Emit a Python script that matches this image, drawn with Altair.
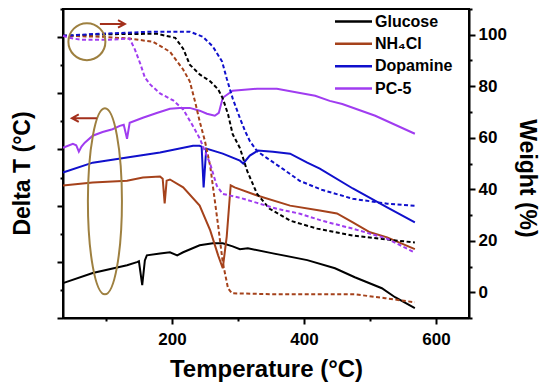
import altair as alt
import pandas as pd

SERIES = ["Glucose", "NH₄Cl", "Dopamine", "PC-5"]
COLORS = ["#000000", "#A5421B", "#1010CC", "#A03CF0"]

# ---- DTA curves (left axis, Delta T, arbitrary units) ----
glu_dta_t = [35, 80, 132, 147, 150, 155, 159, 162, 182, 197, 208, 217, 242, 262, 277, 292, 303, 315, 353, 405, 447, 477, 518, 538, 568]
glu_dta_v = [1.24, 1.60, 1.88, 1.99, 2.02, 1.17, 2.05, 2.23, 2.30, 2.34, 2.23, 2.34, 2.59, 2.66, 2.66, 2.55, 2.45, 2.48, 2.30, 2.06, 1.77, 1.45, 1.06, 0.74, 0.35]

nh4_dta_t = [35, 80, 132, 156, 182, 186, 189, 192, 197, 217, 242, 258, 270, 277, 283, 289, 295, 329, 379, 424, 450, 474, 500, 526, 568]
nh4_dta_v = [4.72, 4.82, 4.89, 5.00, 5.04, 4.96, 4.08, 4.89, 4.93, 4.65, 4.00, 3.12, 2.23, 1.77, 2.90, 4.72, 4.65, 4.36, 4.00, 3.83, 3.72, 3.40, 3.05, 2.87, 2.45]

dop_dta_t = [35, 80, 132, 182, 232, 242, 245, 248, 252, 277, 303, 308, 318, 330, 353, 379, 405, 424, 474, 526, 568]
dop_dta_v = [5.18, 5.53, 5.71, 5.89, 6.13, 6.13, 6.10, 4.65, 6.03, 5.85, 5.60, 5.50, 5.78, 5.96, 5.92, 5.85, 5.53, 5.32, 4.61, 3.94, 3.40]

pc5_dta_t = [35, 50, 55, 59, 63, 68, 80, 95, 110, 121, 127, 132, 136, 156, 177, 197, 212, 227, 242, 253, 265, 271, 277, 292, 329, 359, 394, 417, 439, 458, 508, 568]
pc5_dta_v = [6.06, 6.20, 6.15, 5.92, 6.10, 6.24, 6.49, 6.62, 6.72, 6.84, 6.88, 6.38, 6.95, 7.13, 7.30, 7.45, 7.48, 7.48, 7.38, 7.27, 7.20, 7.30, 7.84, 8.09, 8.16, 8.16, 8.01, 7.91, 7.73, 7.62, 7.20, 6.56]

# ---- TGA curves (right axis, Weight %) ----
glu_tga_t = [35, 100, 177, 205, 217, 227, 242, 258, 270, 277, 285, 292, 303, 314, 329, 348, 379, 420, 474, 526, 568]
glu_tga_v = [99.6, 100.2, 100.4, 98.8, 94.6, 88.4, 84.6, 81.9, 78.8, 75.3, 69.1, 61.4, 56.0, 47.1, 38.2, 32.4, 27.8, 24.7, 22.0, 20.5, 19.3]

nh4_tga_t = [35, 95, 136, 171, 197, 208, 217, 227, 235, 242, 250, 258, 262, 270, 277, 285, 291, 356, 477, 523, 568]
nh4_tga_v = [99.6, 99.2, 98.5, 97.3, 93.4, 89.6, 86.5, 81.9, 74.1, 66.4, 58.7, 49.0, 41.3, 25.9, 11.6, 1.5, -0.4, -0.8, -0.8, -2.3, -3.9]

dop_tga_t = [35, 91, 171, 227, 247, 262, 276, 283, 292, 303, 311, 318, 329, 344, 368, 394, 427, 474, 526, 568]
dop_tga_v = [99.6, 100.4, 101.2, 101.2, 99.2, 95.4, 89.6, 83.0, 75.3, 67.6, 62.5, 58.7, 54.8, 52.1, 47.9, 43.2, 39.8, 36.3, 34.4, 33.6]

pc5_tga_t = [35, 45, 61, 106, 136, 144, 152, 159, 167, 182, 202, 217, 232, 242, 258, 268, 277, 303, 329, 359, 394, 427, 474, 526, 568]
pc5_tga_v = [99.6, 98.8, 98.1, 98.1, 98.5, 94.2, 88.8, 83.4, 80.7, 77.2, 74.5, 71.0, 64.5, 59.8, 49.8, 41.3, 38.2, 36.7, 34.7, 32.4, 30.5, 27.8, 24.7, 20.8, 15.4]


def long_frame(pairs):
    rows = []
    for name, ts, vs in pairs:
        for t, v in zip(ts, vs):
            rows.append({"series": name, "T": t, "v": v})
    return pd.DataFrame(rows)


dta = long_frame([
    ("Glucose", glu_dta_t, glu_dta_v),
    ("NH₄Cl", nh4_dta_t, nh4_dta_v),
    ("Dopamine", dop_dta_t, dop_dta_v),
    ("PC-5", pc5_dta_t, pc5_dta_v),
])
tga = long_frame([
    ("Glucose", glu_tga_t, glu_tga_v),
    ("NH₄Cl", nh4_tga_t, nh4_tga_v),
    ("Dopamine", dop_tga_t, dop_tga_v),
    ("PC-5", pc5_tga_t, pc5_tga_v),
])

FONT = "Liberation Sans"
cscale = alt.Scale(domain=SERIES, range=COLORS)

X = alt.X(
    "T:Q",
    scale=alt.Scale(domain=[35, 650], nice=False, zero=False),
    axis=alt.Axis(
        title="Temperature (°C)",
        values=[100, 200, 300, 400, 500, 600],
        labelExpr="datum.value % 200 === 0 ? datum.label : ''",
        tickSize={"condition": {"test": "datum.value % 200 === 0", "value": 6}, "value": 3},
        labelPadding=7,
        titlePadding=10,
    ),
)

Y_left = alt.Y(
    "v:Q",
    scale=alt.Scale(domain=[0, 11], nice=False, zero=False),
    axis=alt.Axis(
        orient="left",
        title="Delta T (°C)",
        titleFontSize=23,
        titleY=164,
        values=list(range(0, 12)),
        labels=False,
        tickSize={"condition": {"test": "datum.value % 2 === 0", "value": 6}, "value": 3},
        titlePadding=22,
    ),
)

Y_right = alt.Y(
    "v:Q",
    scale=alt.Scale(domain=[-10, 110], nice=False, zero=False),
    axis=alt.Axis(
        orient="right",
        title="Weight (%)",
        titleFontSize=23,
        titleY=169,
        values=list(range(-10, 111, 10)),
        labelExpr="datum.value % 20 === 0 ? datum.label : ''",
        tickSize={"condition": {"test": "datum.value % 20 === 0", "value": 6}, "value": 3},
        labelPadding=3,
        titlePadding=8,
    ),
)

dta_layer = alt.Chart(dta).mark_line(strokeWidth=2).encode(
    x=X, y=Y_left,
    color=alt.Color("series:N", scale=cscale, legend=None),
    detail="series:N",
)

tga_layer = alt.Chart(tga).mark_line(strokeWidth=2, strokeDash=[4, 2.5]).encode(
    x=X, y=Y_right,
    color=alt.Color("series:N", scale=cscale, legend=None),
    detail="series:N",
)

# ---- annotations (circles and arrows), placed in data coordinates ----
ann_circle = pd.DataFrame({"T": [71.2], "v": [97.3]})
ann_ellipse = pd.DataFrame({"T": [98.5], "v": [35.3]})
ann_arrow_r = pd.DataFrame({"T": [109.8], "v": [104.2]})
ann_arrow_l = pd.DataFrame({"T": [67.4], "v": [67.6]})

GOLD = "#9E8040"
ARROW = "#A3301C"
ELLIPSE_PATH = "M0,-1 C0.101,-1 0.183,-0.552 0.183,0 C0.183,0.552 0.101,1 0,1 C-0.101,1 -0.183,0.552 -0.183,0 C-0.183,-0.552 -0.101,-1 0,-1 Z"
ARROW_R = "M-1,0 L1,0 M0.45,-0.3 L1,0 L0.45,0.3"
ARROW_L = "M1,0 L-1,0 M-0.45,-0.3 L-1,0 L-0.45,0.3"

c1 = alt.Chart(ann_circle).mark_point(shape="circle", size=1369, filled=False, stroke=GOLD, strokeWidth=2, opacity=1).encode(x=X, y=Y_right)
c2 = alt.Chart(ann_ellipse).mark_point(shape=ELLIPSE_PATH, size=34596, filled=False, stroke=GOLD, strokeWidth=2, opacity=1).encode(x=X, y=Y_right)
a1 = alt.Chart(ann_arrow_r).mark_point(shape=ARROW_R, size=625, filled=False, stroke=ARROW, strokeWidth=2, opacity=1).encode(x=X, y=Y_right)
a2 = alt.Chart(ann_arrow_l).mark_point(shape=ARROW_L, size=625, filled=False, stroke=ARROW, strokeWidth=2, opacity=1).encode(x=X, y=Y_right)

right_group = alt.layer(tga_layer, c1, c2, a1, a2)

# ---- legend (manual, top-right inside plot) ----
leg = pd.DataFrame({"series": SERIES})
LY = alt.Y("series:N", sort=SERIES, scale=alt.Scale(type="point", range=[12.5, 79.5], padding=0), axis=None)
leg_rule = alt.Chart(leg).mark_rule(strokeWidth=2.5).encode(
    x=alt.value(272), x2=alt.value(309), y=LY,
    color=alt.Color("series:N", scale=cscale, legend=None),
)
leg_text = alt.Chart(leg).mark_text(
    align="left", baseline="middle", font=FONT, fontSize=16, fontWeight="bold", color="black"
).encode(x=alt.value(312), y=LY, text="series:N")
legend_group = alt.layer(leg_rule, leg_text)

chart = alt.layer(dta_layer, right_group, legend_group).resolve_scale(y="independent").properties(
    width=406,
    height=309,
    padding={"left": 55, "top": 1, "right": 73, "bottom": 64},
    autosize=alt.AutoSizeParams(type="none"),
).configure_view(
    stroke="black", strokeWidth=2
).configure_axis(
    grid=False,
    domainColor="black", domainWidth=2,
    tickColor="black", tickWidth=2,
    labelFont=FONT, labelFontSize=17, labelFontWeight="bold", labelColor="black",
    titleFont=FONT, titleFontSize=24, titleFontWeight="bold", titleColor="black",
)

chart.save("out.html", embed_options={"renderer": "svg", "actions": False})
